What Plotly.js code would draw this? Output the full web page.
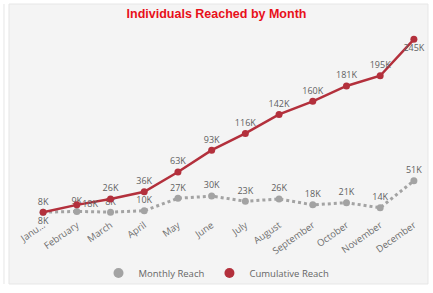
<!DOCTYPE html>
<html>
<head>
<meta charset="utf-8">
<script src="https://cdn.plot.ly/plotly-3.0.1.min.js"></script>
<style>html,body{margin:0;padding:0;background:#fff;}#chart{width:433px;height:293px;}</style>
</head>
<body>
<div id="chart"></div>
<script>
const months = ["January","February","March","April","May","June","July","August","September","October","November","December"];
const tickLabels = ["Janu…","February","March","April","May","June","July","August","September","October","November","December"];
const monthlyReach = [8, 9, 8, 10, 27, 30, 23, 26, 18, 21, 14, 51];
const cumulativeReach = [8, 18, 26, 36, 63, 93, 116, 142, 160, 181, 195, 245];

const monthlyPos = ["bottom center","top center","top center","top center","top center","top center","top center","top center","top center","top center","top center","top center"];
const cumulativePos = ["top center","middle right","top center","top center","top center","top center","top center","top center","top center","top center","top center","bottom center"];

const grey = "#a3a3a3";
const red = "#b3303c";
const labelFont = {family: "Open Sans, Noto Sans, sans-serif", size: 9, color: "#5f5f5f"};

const data = [
  {
    x: months, y: monthlyReach, name: "Monthly Reach", type: "scatter",
    mode: "lines+markers+text",
    text: monthlyReach.map(v => v + "K"), textposition: monthlyPos, textfont: labelFont,
    line: {color: grey, width: 3, dash: "dot"},
    marker: {color: grey, size: 7},
    showlegend: false, hoverinfo: "skip", cliponaxis: false
  },
  {
    x: months, y: cumulativeReach, name: "Cumulative Reach", type: "scatter",
    mode: "lines+markers+text",
    text: cumulativeReach.map(v => v + "K"), textposition: cumulativePos, textfont: labelFont,
    line: {color: red, width: 2.5},
    marker: {color: red, size: 7},
    showlegend: false, hoverinfo: "skip", cliponaxis: false
  },
  {x: [null], y: [null], name: "Monthly Reach", type: "scatter", mode: "markers", marker: {color: grey, size: 10}, showlegend: true},
  {x: [null], y: [null], name: "Cumulative Reach", type: "scatter", mode: "markers", marker: {color: red, size: 10}, showlegend: true}
];

const layout = {
  width: 433, height: 293,
  paper_bgcolor: "#ffffff", plot_bgcolor: "rgba(0,0,0,0)",
  margin: {l: 33, r: 9, t: 32, b: 75},
  title: {text: "<b>Individuals Reached by Month</b>", font: {family: "Liberation Sans, Arial, sans-serif", size: 12.5, color: "#e8101a"}, x: 0.5, xanchor: "center", y: 0.968, yanchor: "top", yref: "container"},
  xaxis: {
    type: "category", range: [-0.3, 11.3], tickvals: months, ticktext: tickLabels,
    tickangle: -35, showgrid: false, zeroline: false, showline: false, ticks: "",
    ticklabelstandoff: -1, automargin: false,
    tickfont: {family: "Open Sans, Noto Sans, sans-serif", size: 9.5, color: "#6e6e6e"}
  },
  yaxis: {range: [0, 255], visible: false, showgrid: false, zeroline: false, automargin: false},
  legend: {orientation: "h", x: 0.5, xref: "container", xanchor: "center", y: 0.068, yref: "container", yanchor: "middle",
    font: {family: "Open Sans, Noto Sans, sans-serif", size: 9.5, color: "#666"},
    itemwidth: 30, bgcolor: "rgba(0,0,0,0)", tracegroupgap: 0},
  shapes: [
    {type: "rect", xref: "paper", yref: "paper", x0: -0.0614, x1: 1.0102, y0: -0.3548, y1: 1.1505,
     fillcolor: "#f4f4f4", line: {color: "#e6e6e6", width: 1}, layer: "below"},
    {type: "line", xref: "paper", yref: "paper", x0: -0.0742, x1: -0.0742, y0: -0.3548, y1: 1.1505,
     line: {color: "#e6e6e6", width: 1}, layer: "below"}
  ],
  showlegend: true
};

Plotly.newPlot("chart", data, layout, {staticPlot: true, displayModeBar: false});
</script>
</body>
</html>
